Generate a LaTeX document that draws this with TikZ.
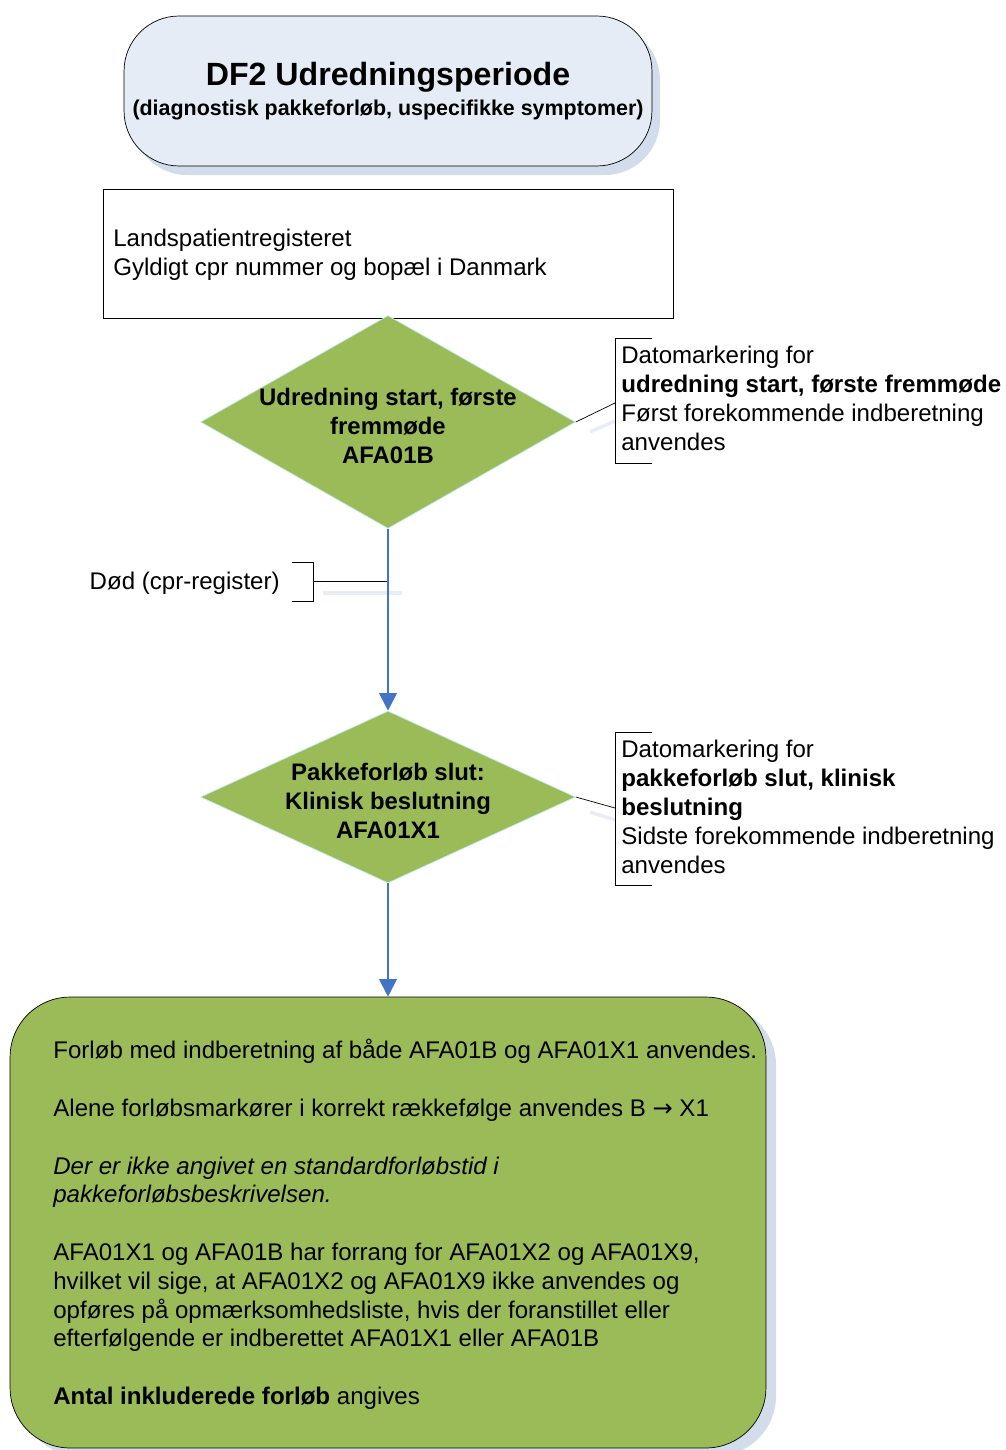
\documentclass[tikz,border=0pt]{standalone}
\usepackage{fontspec}
\setmainfont{Liberation Sans}
\newfontfamily\arrowfont{DejaVu Sans}
\usetikzlibrary{shapes.geometric,arrows.meta}
\definecolor{boxgreen}{HTML}{9BBB59}
\definecolor{boxblue}{HTML}{E6ECF6}
\definecolor{shadowblue}{HTML}{D3DCEB}
\definecolor{arrowblue}{HTML}{4472C4}
\definecolor{rimcyan}{HTML}{BFEFEF}
\tikzset{
	startbox/.style={draw, fill=boxblue, rounded corners=1.1cm, minimum width=10.56cm, minimum height=3cm, align=center},
	lprbox/.style={draw, fill=white, minimum width=11.4cm, minimum height=2.58cm},
	decision/.style={diamond, draw=rimcyan, fill=boxgreen, minimum width=7.5cm, minimum height=4.26cm, inner sep=0pt},
	endbox/.style={draw, fill=boxgreen, rounded corners=1.2cm, minimum width=15.12cm, minimum height=9.02cm},
	note/.style={anchor=north west, align=left, inner sep=0pt, font=\fontsize{13.7}{16.4}\selectfont},
	flow/.style={arrowblue, line width=1.2pt, -{Triangle[length=10pt,width=10pt]}},
	shadowline/.style={shadowblue, line width=2pt}
}
\begin{document}
\begin{tikzpicture}[x=0.02cm, y=-0.02cm]
	\useasboundingbox (0,0) rectangle (1005,1450);
	%title
	\fill[shadowblue, rounded corners=1.1cm] (132,25) rectangle (660,175);
	\node[startbox] (title) at (388,91) {{\fontsize{18.3}{22}\selectfont\bfseries DF2 Udredningsperiode}\\[3pt]
		{\fontsize{12.2}{13}\selectfont\bfseries (diagnostisk pakkeforløb, uspecifikke symptomer)}};
	
	%register
	\node[lprbox] (lpr) at (388,253.5) {};
	\node[note, anchor=west] (lprtext) at (113,255) {Landspatientregisteret\\Gyldigt cpr nummer og bopæl i Danmark};
	
	%first decision
	\node[decision, label={[align=center, yshift=-2.2pt, font=\fontsize{13.6}{16.4}\selectfont\bfseries]center:Udredning start, første\\fremmøde\\AFA01B}] (start) at (388,422) {};
	\draw[shadowline, opacity=0.5] (590,432) -- (615,421);
	\draw (652,338) -- (615,338) -- (615,463) -- (652,463);
	\coordinate (brace1) at (615,403);
	\draw (start.east) -- (brace1);
	\node[note] (note1) at (621,346) {Datomarkering for\\\textbf{udredning start, første fremmøde}\\Først forekommende indberetning\\anvendes};
	
	%death
	\draw[shadowline, opacity=0.5] (323,593) -- (402,593);
	\draw (292,562) -- (313,562) -- (313,601) -- (292,601);
	\node[note, anchor=east] (death) at (280,583) {Død (cpr-register)};
	\coordinate (brace0) at (313,581);
	\coordinate (deathpt) at (388,581);
	\draw (brace0) -- (deathpt);
	
	%second decision
	\node[decision, minimum height=3.44cm, label={[align=center, yshift=-2.2pt, font=\fontsize{13.6}{16.4}\selectfont\bfseries]center:Pakkeforløb slut:\\Klinisk beslutning\\AFA01X1}] (slut) at (388,797) {};
	\draw[flow] (start.south) -- (slut.north);
	\draw[shadowline, opacity=0.5] (590,812) -- (615,820);
	\draw (652,732) -- (615,732) -- (615,885) -- (652,885);
	\coordinate (brace2) at (615,808);
	\draw (slut.east) -- (brace2);
	\node[note] (note2) at (621,740) {Datomarkering for\\\textbf{pakkeforløb slut, klinisk}\\\textbf{beslutning}\\Sidste forekommende indberetning\\anvendes};
	
	%result
	\fill[shadowblue, rounded corners=1.2cm] (20,1005) rectangle (776,1456);
	\node[endbox] (result) at (388,1222.5) {};
	\draw[flow] (slut.south) -- (result.north);
	\node[note] (resulttext) at (53,1039) {Forløb med indberetning af både AFA01B og AFA01X1 anvendes.\\[16.4pt]
		Alene forløbsmarkører i korrekt rækkefølge anvendes B {\arrowfont →} X1\\[16.4pt]
		{\itshape Der er ikke angivet en standardforløbstid i}\\{\itshape pakkeforløbsbeskrivelsen.}\\[16.4pt]
		AFA01X1 og AFA01B har forrang for AFA01X2 og AFA01X9,\\hvilket vil sige, at AFA01X2 og AFA01X9 ikke anvendes og\\opføres på opmærksomhedsliste, hvis der foranstillet eller\\efterfølgende er indberettet AFA01X1 eller AFA01B\\[16.4pt]
		\textbf{Antal inkluderede forløb} angives};
\end{tikzpicture}
\end{document}
